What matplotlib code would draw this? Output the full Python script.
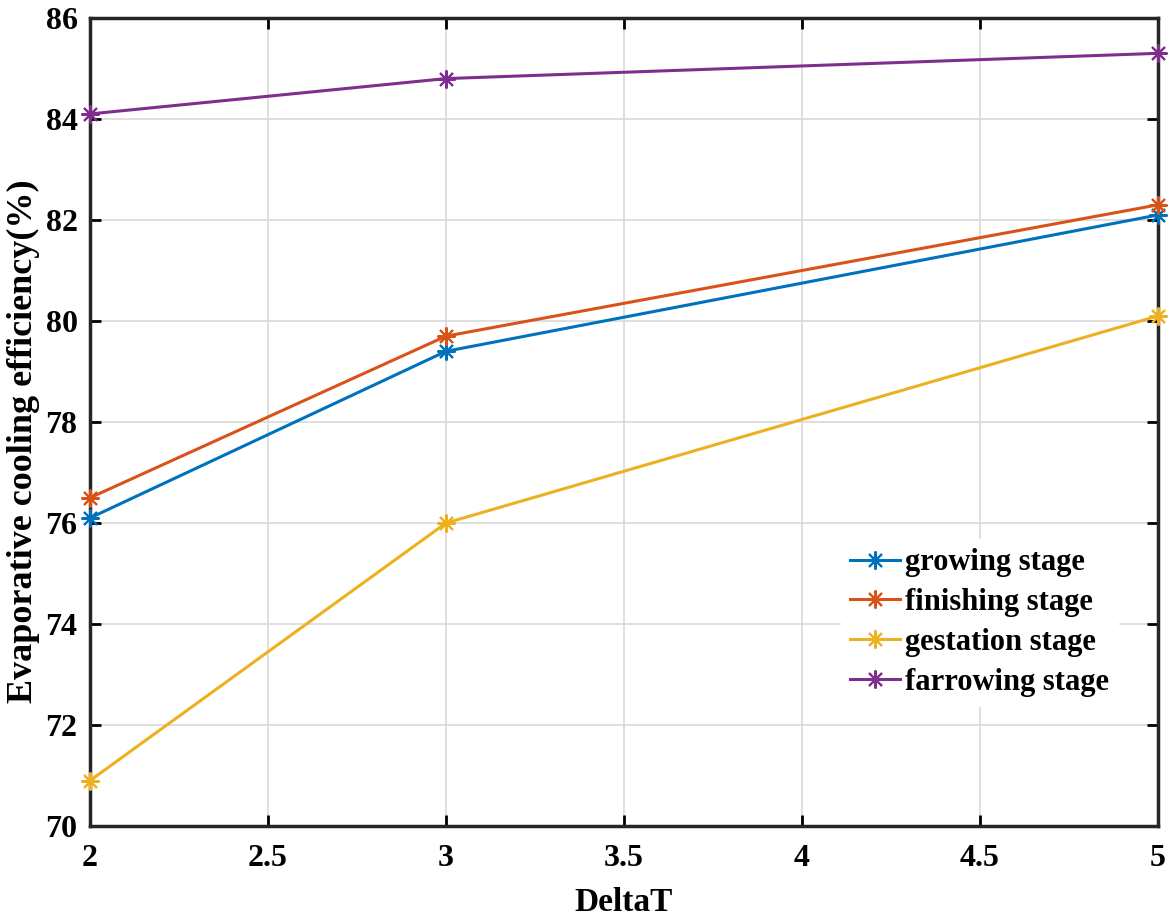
import matplotlib
matplotlib.use("Agg")
import matplotlib.pyplot as plt

delta_t = [2, 3, 5]
growing = [76.1, 79.4, 82.1]
finishing = [76.5, 79.7, 82.3]
gestation = [70.9, 76.0, 80.1]
farrowing = [84.1, 84.8, 85.3]
series_names = ["growing stage", "finishing stage", "gestation stage", "farrowing stage"]
colors = ["#0072BD", "#D95319", "#EDB120", "#7E2F8E"]
xticks = [2, 2.5, 3, 3.5, 4, 4.5, 5]
xtick_labels = ["2", "2.5", "3", "3.5", "4", "4.5", "5"]
yticks = [70, 72, 74, 76, 78, 80, 82, 84, 86]

plt.rcParams['font.family'] = ['Liberation Serif', 'DejaVu Serif']
plt.rcParams['font.weight'] = 'bold'

fig = plt.figure(figsize=(11.69, 9.17), dpi=100)
ax = fig.add_axes([0.077, 0.0992, 0.9136, 0.8812])

for ys, name, c in zip([growing, finishing, gestation, farrowing], series_names, colors):
    ax.plot(delta_t, ys, color=c, lw=2.2, marker=(8, 2, 0), markersize=13,
            markeredgewidth=1.5, label=name, clip_on=False, zorder=3)

ax.set_xlim(2, 5)
ax.set_ylim(70, 86)
ax.set_xticks(xticks)
ax.set_xticklabels(xtick_labels)
ax.set_yticks(yticks)
ax.grid(True, color='#d9d9d9', lw=1.2)
ax.set_axisbelow(True)
ax.tick_params(direction='in', length=8, width=2, top=True, right=True,
               labelsize=23)
ax.tick_params(axis='x', pad=13)
ax.tick_params(axis='y', pad=9)
for lab in ax.get_xticklabels() + ax.get_yticklabels():
    lab.set_fontweight('bold')
for s in ax.spines.values():
    s.set_linewidth(2.5)
    s.set_color('#262626')

ax.set_xlabel("DeltaT", fontsize=24, fontweight='bold')
ax.xaxis.set_label_coords(0.5, -0.075)
ax.set_ylabel("Evaporative cooling efficiency(%)", fontsize=26, fontweight='bold')
ax.yaxis.set_label_coords(-0.047, 0.476)

leg = ax.legend(loc='lower right', bbox_to_anchor=(0.977, 0.13), frameon=True,
                fancybox=False, edgecolor='white', framealpha=1.0,
                prop={'size': 22, 'weight': 'bold'}, handlelength=1.65,
                handletextpad=0.15, labelspacing=0.35, borderpad=0.3)

fig.savefig("out.png", dpi=100)
